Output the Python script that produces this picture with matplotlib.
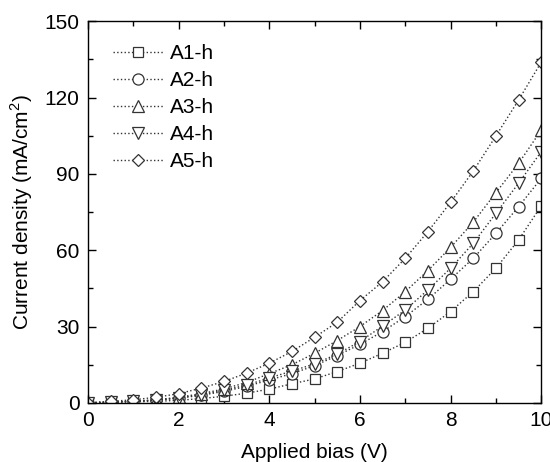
import numpy as np
import matplotlib
matplotlib.use("Agg")
import matplotlib.pyplot as plt
from matplotlib.ticker import MultipleLocator

plt.rcParams["font.family"] = ["Liberation Sans", "DejaVu Sans"]
plt.rcParams["mathtext.fontset"] = "custom"
plt.rcParams["mathtext.rm"] = "Liberation Sans"

bias = [0, 0.5, 1, 1.5, 2, 2.5, 3, 3.5, 4, 4.5, 5, 5.5, 6, 6.5, 7, 7.5, 8, 8.5, 9, 9.5, 10]

a1 = [0, 0.2, 0.4, 0.6, 1.0, 1.7, 2.6, 3.8, 5.4, 7.5, 9.4, 12.3, 15.6, 19.5, 23.8, 29.3, 35.9, 43.7, 52.9, 64.0, 77.4]
a2 = [0, 0.3, 0.6, 1.0, 1.8, 3.0, 4.5, 6.5, 9.0, 11.5, 14.6, 18.6, 23.0, 28.0, 33.9, 40.7, 48.6, 56.8, 66.6, 77.1, 88.2]
a3 = [0, 0.3, 0.7, 1.2, 2.2, 3.6, 5.5, 8.0, 11.5, 15.0, 19.5, 24.5, 30.0, 36.3, 43.7, 52.0, 61.1, 71.0, 82.6, 94.1, 107.2]
a4 = [0, 0.3, 0.6, 1.1, 2.0, 3.2, 5.0, 7.0, 9.8, 12.5, 15.3, 19.2, 24.1, 30.2, 36.5, 44.4, 52.9, 62.7, 74.5, 86.3, 98.7]
a5 = [0, 0.6, 1.2, 2.2, 3.6, 5.8, 8.4, 11.7, 15.6, 20.2, 25.8, 31.7, 40.2, 47.6, 56.8, 67.3, 78.8, 91.1, 104.9, 119.0, 133.9]

labels = ["A1-h", "A2-h", "A3-h", "A4-h", "A5-h"]
markers = ["s", "o", "^", "v", "D"]
sizes = [7, 8, 8, 8, 6.5]

fig = plt.figure(figsize=(5.5, 4.62), dpi=100)
ax = fig.add_axes([0.16, 0.128, 0.824, 0.826])

for ys, lab, m, ms in zip([a1, a2, a3, a4, a5], labels, markers, sizes):
    ax.plot(bias, ys, linestyle=":", color="#333333", lw=1.0, marker=m, ms=ms,
            mfc="white", mec="#333333", mew=0.9, label=lab)

ax.set_xlim(0, 10)
ax.set_ylim(0, 150)
ax.xaxis.set_major_locator(MultipleLocator(2))
ax.xaxis.set_minor_locator(MultipleLocator(1))
ax.yaxis.set_major_locator(MultipleLocator(30))
ax.yaxis.set_minor_locator(MultipleLocator(15))
ax.tick_params(which="both", direction="in", top=True, right=True, labelsize=15, width=1.0)
ax.tick_params(which="major", length=6, pad=6)
ax.tick_params(which="minor", length=3.5)
for s in ax.spines.values():
    s.set_linewidth(1.0)

ax.set_xlabel("Applied bias (V)", fontsize=15, labelpad=9)
ax.set_ylabel("Current density (mA/cm$^2$)", fontsize=15, labelpad=7)

ax.legend(loc="upper left", frameon=False, fontsize=15, handlelength=2.4,
          handletextpad=0.35, labelspacing=0.38, borderaxespad=0.0,
          borderpad=0.0, bbox_to_anchor=(0.055, 0.94))

fig.savefig("out.png", dpi=100)
